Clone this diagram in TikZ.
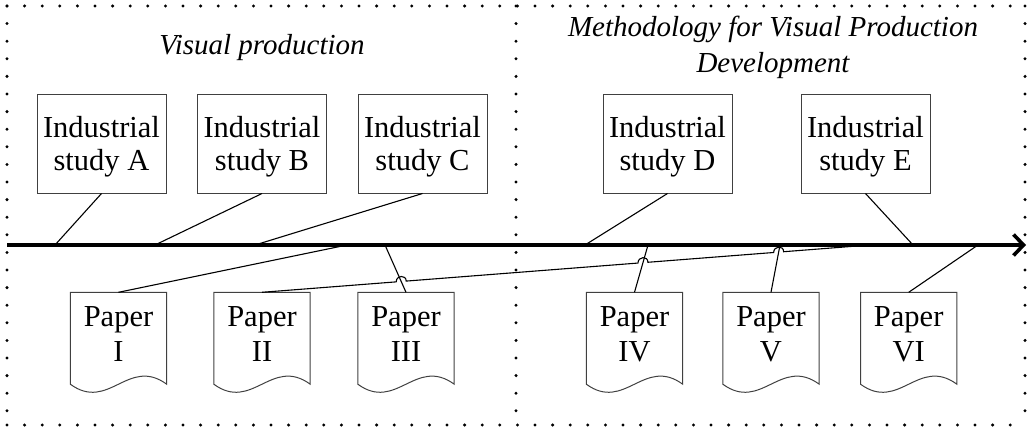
\documentclass[tikz,border=0pt]{standalone}
\usepackage{fontspec}
\setmainfont{Liberation Serif}
\usetikzlibrary{arrows.meta,calc,intersections}
\begin{document}
\begin{tikzpicture}[x=1pt,y=-1pt,
  sbox/.style={draw=black!75,line width=1pt,minimum width=129pt,minimum height=99pt,inner sep=0pt,align=center,text depth=0pt,font=\fontsize{30.5}{33}\selectfont},
  paper/.style={minimum width=96pt,minimum height=91.5pt,inner sep=0pt,align=center,text depth=7.7pt,font=\fontsize{30.5}{35}\selectfont},
  pline/.style={draw=black!75,line width=1pt},
  conn/.style={line width=1.1pt},
  axisline/.style={line width=3.6pt,-{Straight Barb[length=10pt,width=21pt]}},
  frame/.style={line width=3.3pt,line cap=round,dash pattern=on 0pt off 17.6pt},
  title/.style={font=\itshape\fontsize{29}{36}\selectfont,align=center,inner sep=0pt,text depth=0pt}
]
\useasboundingbox (0,0) rectangle (1028,428);
% frame
\draw[frame] (7,6) -- (1025,6);
\draw[frame] (7,425) -- (1025,425);
\draw[frame] (7,6) -- (7,425);
\draw[frame] (1025,6) -- (1025,425);
\draw[frame] (516,6) -- (516,425);
% titles
\node[title,anchor=base] (t1) at (262,55) {Visual production};
\node[title,anchor=south] (t2) at (773,73) {Methodology for Visual Production\\Development};
% axis
\coordinate (s) at (7,245);
\coordinate (t) at (1026,245);
\draw[axisline] (s) -- (t);
% axis points
\coordinate (aA) at (55,245);
\coordinate (aB) at (155,245);
\coordinate (aC) at (255,245);
\coordinate (aD) at (585,245);
\coordinate (aE) at (913,245);
\coordinate (a1) at (347,245);
\coordinate (a2) at (870,245);
\coordinate (a3) at (385,245);
\coordinate (a4) at (648,245);
\coordinate (a5) at (780,245);
\coordinate (a6) at (978,245);
% studies
\node[sbox] (A) at (101.5,143.5) {Industrial\\study A};
\node[sbox] (B) at (262,143.5) {Industrial\\study B};
\node[sbox] (C) at (422.5,143.5) {Industrial\\study C};
\node[sbox] (D) at (667.5,143.5) {Industrial\\study D};
\node[sbox] (E) at (865.5,143.5) {Industrial\\study E};
% papers
\node[paper] (I) at (118.5,338.25) {Paper\\I};
\node[paper] (II) at (262,338.25) {Paper\\II};
\node[paper] (III) at (406,338.25) {Paper\\III};
\node[paper] (IV) at (634.5,338.25) {Paper\\IV};
\node[paper] (V) at (771,338.25) {Paper\\V};
\node[paper] (VI) at (908.7,338.25) {Paper\\VI};
\foreach \p in {I,II,III,IV,V,VI}
  \draw[pline] (\p.south west) -- (\p.north west) -- (\p.north east) -- (\p.south east) .. controls +(-38.4,-28) and +(38.4,28) .. (\p.south west) -- cycle;
% connectors
\draw[conn] (A.south) -- (aA);
\draw[conn] (B.south) -- (aB);
\draw[conn] (C.south) -- (aC);
\draw[conn] (D.south) -- (aD);
\draw[conn] (E.south) -- (aE);
\draw[conn] (I.north) -- (a1);
\draw[conn] (III.north) -- (a3);
\draw[conn] (IV.north) -- (a4);
\draw[conn] (V.north) -- (a5);
\draw[conn] (VI.north) -- (a6);
\path[name path=l2] (II.north) -- (a2);
\path[name path=l3] (III.north) -- (a3);
\path[name path=l4] (IV.north) -- (a4);
\path[name path=l5] (V.north) -- (a5);
\path[name intersections={of=l2 and l3,by=x3}];
\path[name intersections={of=l2 and l4,by=x4}];
\path[name intersections={of=l2 and l5,by=x5}];
\draw[conn] (II.north) -- ($(x3)!5pt!(II.north)$) .. controls +(0,-6.7) and +(0,-6.7) .. ($(x3)!5pt!(a2)$)
  -- ($(x4)!5pt!(II.north)$) .. controls +(0,-6.7) and +(0,-6.7) .. ($(x4)!5pt!(a2)$)
  -- ($(x5)!5pt!(II.north)$) .. controls +(0,-6.7) and +(0,-6.7) .. ($(x5)!5pt!(a2)$)
  -- (a2);
\end{tikzpicture}
\end{document}
